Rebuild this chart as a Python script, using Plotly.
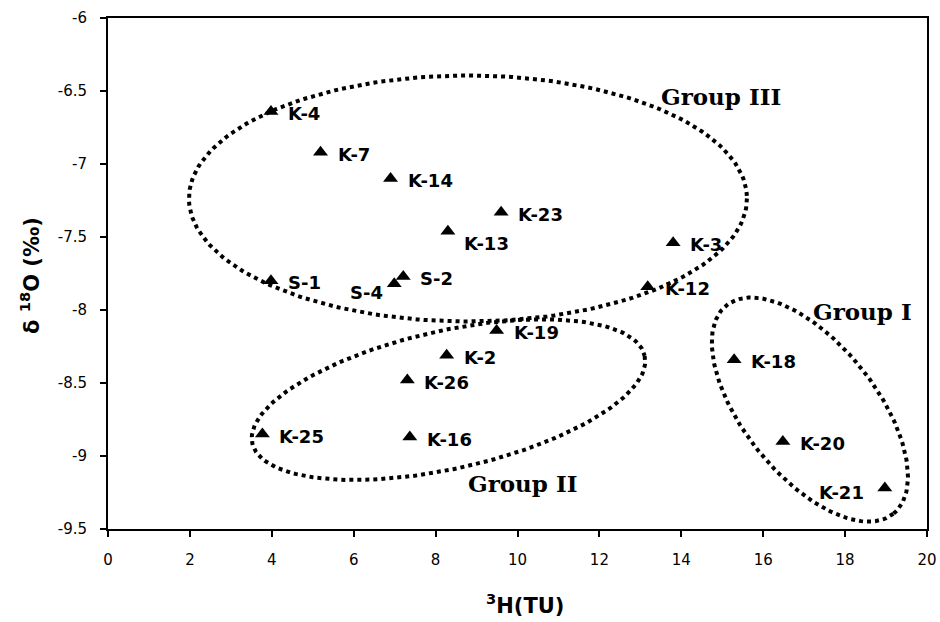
import numpy as np
import plotly.graph_objects as go

# ---------------- data ----------------
names = ["K-4", "K-7", "K-14", "K-23", "K-13", "K-3", "K-12", "S-1", "S-2",
         "S-4", "K-19", "K-2", "K-26", "K-25", "K-16", "K-18", "K-20", "K-21"]
tritium = [3.98, 5.19, 6.90, 9.60, 8.30, 13.80, 13.18, 3.98, 7.21,
           6.99, 9.49, 8.27, 7.31, 3.77, 7.37, 15.29, 16.48, 18.97]
d18o = [-6.64, -6.92, -7.10, -7.33, -7.46, -7.54, -7.84, -7.80, -7.77,
        -7.82, -8.14, -8.31, -8.48, -8.85, -8.87, -8.34, -8.90, -9.22]

x_ticks = [0, 2, 4, 6, 8, 10, 12, 14, 16, 18, 20]
x_tick_labels = ["0", "2", "4", "6", "8", "10", "12", "14", "16", "18", "20"]
y_ticks = [-9.5, -9, -8.5, -8, -7.5, -7, -6.5, -6]
y_tick_labels = ["-9.5", "-9", "-8.5", "-8", "-7.5", "-7", "-6.5", "-6"]

group_names = ["Group III", "Group II", "Group I"]

# ---------------- layout geometry ----------------
W, H = 940, 622
ML, MR, MT, MB = 108, 13, 18, 93
X0, X1, Y0, Y1 = 0, 20, -9.5, -6
PW, PH = W - ML - MR, H - MT - MB
SX, SY = PW / (X1 - X0), PH / (Y1 - Y0)

# ellipse outlines: centre (data), semi-axes (px), rotation (deg, screen)
ellipse_specs = {
    "Group III": (8.79, -7.236, 279, 123, 0.0),
    "Group II": (8.315, -8.614, 201, 69, -12.6),
    "Group I": (17.14, -8.682, 133.5, 66, 51.3),
}
# group label anchor (data coords)
group_label_pos = {
    "Group III": (14.97, -6.54),
    "Group II": (10.12, -9.19),
    "Group I": (18.42, -8.01),
}

# label placement for sample names (xanchor, xshift, yshift)
label_place_default = ("left", 15, -2)
label_place = {
    "K-13": ("left", 14, -12),
    "S-4": ("right", -9, -9),
    "K-21": ("right", -19, -4),
}


def ellipse(cx, cy, a, b, ang):
    t = np.linspace(0, 2 * np.pi, 241)
    u = a * np.cos(t)
    v = b * np.sin(t)
    th = np.radians(ang)
    dx = u * np.cos(th) - v * np.sin(th)
    dy = u * np.sin(th) + v * np.cos(th)
    return cx + dx / SX, cy - dy / SY


fig = go.Figure()

for g in group_names:
    ex, ey = ellipse(*ellipse_specs[g])
    fig.add_trace(go.Scatter(
        x=ex, y=ey, mode="lines",
        line=dict(color="black", width=4, dash="4px,4px"),
        hoverinfo="skip", showlegend=False))

fig.add_trace(go.Scatter(
    x=tritium, y=d18o, mode="markers",
    marker=dict(symbol="triangle-up", size=13, color="black"),
    text=names, showlegend=False))

annotations = []
for n, xv, yv in zip(names, tritium, d18o):
    xa, xs, ys = label_place.get(n, label_place_default)
    annotations.append(dict(
        x=xv, y=yv, xref="x", yref="y", text=n, showarrow=False,
        xanchor=xa, yanchor="middle", xshift=xs, yshift=ys,
        font=dict(family="DejaVu Sans", size=18, color="black", weight="bold")))

for g in group_names:
    gx, gy = group_label_pos[g]
    annotations.append(dict(
        x=gx, y=gy, xref="x", yref="y", text=g, showarrow=False,
        xanchor="center", yanchor="middle",
        font=dict(family="DejaVu Serif", size=23, color="black", weight="bold")))

# axis titles
annotations.append(dict(
    x=(525 - ML) / PW, y=(H - MB - 604) / PH, xref="paper", yref="paper",
    text="<sup>3</sup>H(TU)", showarrow=False, xanchor="center", yanchor="middle",
    font=dict(family="DejaVu Sans", size=21, color="black", weight="bold")))
annotations.append(dict(
    x=(30 - ML) / PW, y=(H - MB - 276) / PH, xref="paper", yref="paper",
    text="δ <sup>18</sup>O (‰)", showarrow=False, textangle=-90,
    xanchor="center", yanchor="middle",
    font=dict(family="DejaVu Sans", size=21, color="black", weight="bold")))

fig.update_layout(
    width=W, height=H,
    margin=dict(l=ML, r=MR, t=MT, b=MB, autoexpand=False),
    paper_bgcolor="white", plot_bgcolor="white",
    annotations=annotations,
    showlegend=False,
)
fig.update_xaxes(
    range=[X0, X1], tickvals=x_ticks, ticktext=x_tick_labels,
    showgrid=False, zeroline=False, showline=True, linecolor="black",
    linewidth=2, mirror=True, ticks="outside", ticklen=6, tickwidth=2,
    tickcolor="black", ticklabelstandoff=10, automargin=False,
    tickfont=dict(family="DejaVu Sans", size=15, color="black"))
fig.update_yaxes(
    range=[Y0, Y1], tickvals=y_ticks, ticktext=y_tick_labels,
    showgrid=False, zeroline=False, showline=True, linecolor="black",
    linewidth=2, mirror=True, ticks="outside", ticklen=6, tickwidth=2,
    tickcolor="black", ticklabelstandoff=10, automargin=False,
    tickfont=dict(family="DejaVu Sans", size=15, color="black"))

fig.write_html(
    "out.html",
    config={"displayModeBar": False},
    post_script="document.body.style.margin='0';document.body.style.overflow='hidden';",
)
